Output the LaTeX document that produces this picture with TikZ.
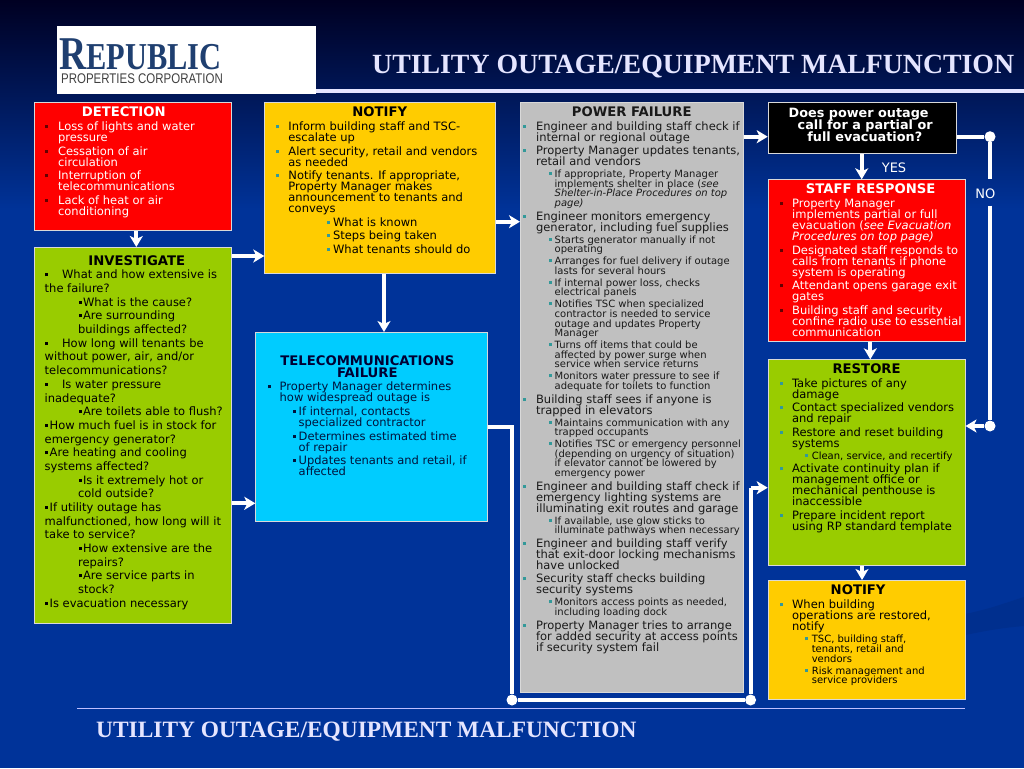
\documentclass[tikz,border=0pt]{standalone}
\usepackage{fontspec}
\setmainfont{DejaVu Sans}
\newfontfamily\titlefont{Liberation Serif}
\newfontfamily\logosans{Liberation Sans}
\usetikzlibrary{arrows.meta}

\definecolor{slideblue}{HTML}{003399}
\definecolor{slidedark}{HTML}{000022}
\definecolor{alertred}{HTML}{FF0000}
\definecolor{signalyellow}{HTML}{FFCC00}
\definecolor{leafgreen}{HTML}{99CC00}
\definecolor{skycyan}{HTML}{00CCFF}
\definecolor{panelgray}{HTML}{C0C0C0}
\definecolor{bulletteal}{HTML}{339999}
\definecolor{bulletred}{HTML}{660000}
\definecolor{logonavy}{HTML}{1F3F70}
\colorlet{bulletcol}{black}

% one bullet line: continuation x, bullet x, first text x, text
\newcommand{\entry}[4]{\par\leftskip=#1pt\relax\noindent
  \hspace*{\dimexpr#2pt-#1pt\relax}\textcolor{bulletcol}{\rule[2.5pt]{3pt}{3pt}}%
  \hspace*{\dimexpr#3pt-#2pt-3pt\relax}#4\par}
\newcommand{\mainsize}{\fontsize{11.5}{11}\selectfont\setlength{\parskip}{2.6pt}}
\newcommand{\subsize}{\fontsize{10}{9.6}\selectfont\setlength{\parskip}{2.4pt}}
\newcommand{\paneltitle}[3]{\vspace*{#1pt}\par\noindent
  \hbox to \linewidth{\hss\hspace{#2pt}\fontsize{13.2}{13}\selectfont\bfseries #3\hss}\par}
\newcommand{\panelbody}[3]{\parbox[t][#2pt][t]{#1pt}{\lineskiplimit=-30pt\rightskip=0pt plus 1fil\relax #3}}

\begin{document}
\begin{tikzpicture}[
    x=1pt, y=-1pt,
    panel/.style={draw=white!85!black, line width=0.8pt, inner sep=0pt, anchor=north west},
    flowline/.style={draw=white, line width=3.8pt},
    flowarrow/.style={flowline, -{Stealth[length=11pt,width=13pt,inset=3pt]}},
    joint/.style={circle, fill=white, inner sep=0pt, minimum size=11pt},
    tag/.style={text=white, font=\fontsize{13}{13}\selectfont, inner sep=0pt},
  ]
  \useasboundingbox (0,0) rectangle (1024,768);

  % slide background
  \fill[slideblue] (0,0) rectangle (1024,768);
  \shade[top color=slidedark, bottom color=slideblue] (0,0) rectangle (1024,210);
  \fill[slideblue!93!black] (965,614) .. controls (990,609) and (1005,603) .. (1024,597)
    -- (1024,626) .. controls (1000,628) and (985,631) .. (965,635) -- cycle;
  \fill[white!90!blue] (316,89) rectangle (1024,93);
  \fill[white!75!blue] (77,707.5) rectangle (965,709);

  % logo
  \fill[white] (57,26) rectangle (316,94);
  \node[anchor=base west, inner sep=0pt, text=logonavy] (logoname) at (59,70)
    {\scalebox{0.8}[1]{\titlefont\bfseries\fontsize{47}{47}\selectfont R\fontsize{38}{38}\selectfont EPUBLIC}};
  \node[anchor=base west, inner sep=0pt, text=black!75] (logosub) at (61,83)
    {\scalebox{0.82}[1]{\logosans\fontsize{14}{14}\selectfont PROPERTIES CORPORATION}};

  % slide titles
  \node[anchor=base west, inner sep=0pt, text=white!90!blue] (toptitle) at (372,73)
    {\titlefont\bfseries\fontsize{27.8}{28}\selectfont UTILITY OUTAGE/EQUIPMENT MALFUNCTION};
  \node[anchor=base west, inner sep=0pt, text=white!90!blue] (bottomtitle) at (96,737)
    {\titlefont\bfseries\fontsize{23.4}{24}\selectfont UTILITY OUTAGE/EQUIPMENT MALFUNCTION};

  % left column
  \node[panel, fill=alertred, text=white] (detection) at (34,102.3) {\panelbody{196.7}{128}{%
    \colorlet{bulletcol}{bulletred}%
    \paneltitle{4.5}{-18}{DETECTION}\mainsize
    \entry{23.7}{11}{23.7}{Loss of lights and water\\pressure}
    \entry{23.7}{11}{23.7}{Cessation of air\\circulation}
    \entry{23.7}{11}{23.7}{Interruption of\\telecommunications}
    \entry{23.7}{11}{23.7}{Lack of heat or air\\conditioning}}};

  \node[panel, fill=leafgreen, text=black] (investigate) at (34,247) {\panelbody{196.7}{376.3}{%
    \paneltitle{8}{8}{INVESTIGATE}\fontsize{11.5}{13.68}\selectfont\setlength{\parskip}{0pt}%
    \entry{10.3}{11}{27.7}{What and how extensive is\\the failure?}
    \entry{43.7}{45}{48.7}{What is the cause?}
    \entry{43.7}{45}{48.7}{Are surrounding\\buildings affected?}
    \entry{10.3}{11}{27.7}{How long will tenants be\\without power, air, and/or\\telecommunications?}
    \entry{10.3}{11}{27.7}{Is water pressure\\inadequate?}
    \entry{43.7}{45}{48.7}{Are toilets able to flush?}
    \entry{10.3}{11}{15.3}{How much fuel is in stock for\\emergency generator?}
    \entry{10.3}{11}{15.3}{Are heating and cooling\\systems affected?}
    \entry{43.7}{45}{48.7}{Is it extremely hot or\\cold outside?}
    \entry{10.3}{11}{15.3}{If utility outage has\\malfunctioned, how long will it\\take to service?}
    \entry{43.7}{45}{48.7}{How extensive are the\\repairs?}
    \entry{43.7}{45}{48.7}{Are service parts in\\stock?}
    \entry{10.3}{11}{15.3}{Is evacuation necessary}}};

  % second column
  \node[panel, fill=signalyellow, text=black] (notifyfirst) at (264.3,102.3) {\panelbody{231}{170.7}{%
    \colorlet{bulletcol}{bulletteal}%
    \paneltitle{4.5}{-1}{NOTIFY}\mainsize
    \entry{23.7}{11.5}{23.7}{Inform building staff and TSC-\\escalate up}
    \entry{23.7}{11.5}{23.7}{Alert security, retail and vendors\\as needed}
    \entry{23.7}{11.5}{23.7}{Notify tenants.  If appropriate,\\Property Manager makes\\announcement to tenants and\\conveys}
    \entry{68.4}{62.5}{68.4}{What is known}
    \entry{68.4}{62.5}{68.4}{Steps being taken}
    \entry{68.4}{62.5}{68.4}{What tenants should do}}};

  \node[panel, fill=skycyan, text=black!60!slideblue] (telecom) at (255.3,332) {\panelbody{231.4}{188.7}{%
    \colorlet{bulletcol}{black!60!slideblue}%
    \vspace*{23pt}\par\noindent\hbox to \linewidth{\hss\hspace{-8pt}\fontsize{13.2}{13}\selectfont\bfseries\color{black!80!blue} TELECOMMUNICATIONS\hss}\par
    \paneltitle{0}{-8}{\color{black!80!blue}FAILURE}\mainsize
    \entry{24}{12}{24}{Property Manager determines\\how widespread outage is}
    \entry{43}{37.7}{43}{If internal, contacts\\specialized contractor}
    \entry{43}{37.7}{43}{Determines estimated time\\of repair}
    \entry{43}{37.7}{43}{Updates tenants and retail, if\\affected}}};

  % power failure column
  \node[panel, fill=panelgray, text=black!90] (power) at (520,102.3) {\panelbody{222.7}{589.4}{%
    \colorlet{bulletcol}{bulletteal}%
    \paneltitle{4}{0}{POWER FAILURE}\mainsize
    \entry{15.7}{3}{15.7}{Engineer and building staff check if\\internal or regional outage}
    \entry{15.7}{3}{15.7}{Property Manager updates tenants,\\retail and vendors}\subsize
    \entry{34.3}{29}{34.3}{If appropriate, Property Manager\\implements shelter in place (\textit{see\\Shelter-in-Place Procedures on top\\page)}}\mainsize
    \entry{15.7}{3}{15.7}{Engineer monitors emergency\\generator, including fuel supplies}\subsize
    \entry{34.3}{29}{34.3}{Starts generator manually if not\\operating}
    \entry{34.3}{29}{34.3}{Arranges for fuel delivery if outage\\lasts for several hours}
    \entry{34.3}{29}{34.3}{If internal power loss, checks\\electrical panels}
    \entry{34.3}{29}{34.3}{Notifies TSC when specialized\\contractor is needed to service\\outage and updates Property\\Manager}
    \entry{34.3}{29}{34.3}{Turns off items that could be\\affected by power surge when\\service when service returns}
    \entry{34.3}{29}{34.3}{Monitors water pressure to see if\\adequate for toilets to function}\mainsize
    \entry{15.7}{3}{15.7}{Building staff sees if anyone is\\trapped in elevators}\subsize
    \entry{34.3}{29}{34.3}{Maintains communication with any\\trapped occupants}
    \entry{34.3}{29}{34.3}{Notifies TSC or emergency personnel\\(depending on urgency of situation)\\if elevator cannot be lowered by\\emergency power}\mainsize
    \entry{15.7}{3}{15.7}{Engineer and building staff check if\\emergency lighting systems are\\illuminating exit routes and garage}\subsize
    \entry{34.3}{29}{34.3}{If available, use glow sticks to\\illuminate pathways when necessary}\mainsize
    \entry{15.7}{3}{15.7}{Engineer and building staff verify\\that exit-door locking mechanisms\\have unlocked}
    \entry{15.7}{3}{15.7}{Security staff checks building\\security systems}\subsize
    \entry{34.3}{29}{34.3}{Monitors access points as needed,\\including loading dock}\mainsize
    \entry{15.7}{3}{15.7}{Property Manager tries to arrange\\for added security at access points\\if security system fail}}};

  % right column
  \node[panel, fill=black, text=white] (question) at (767.7,102.3) {\panelbody{188.3}{51}{%
    \fontsize{12.8}{12.3}\selectfont\bfseries\vspace*{5pt}\par
    \noindent\hspace*{20.6pt}Does power outage\par
    \noindent\hspace*{29.6pt}call for a partial or\par
    \noindent\hspace*{39.3pt}full evacuation?}};

  \node[panel, fill=alertred, text=white] (staff) at (767.7,179.3) {\panelbody{197}{162}{%
    \colorlet{bulletcol}{bulletred}%
    \paneltitle{4.5}{8}{STAFF RESPONSE}\mainsize
    \entry{24}{11.5}{24}{Property Manager\\implements partial or full\\evacuation (\textit{see Evacuation\\Procedures on top page)}}
    \entry{24}{11.5}{24}{Designated staff responds to\\calls from tenants if phone\\system is operating}
    \entry{24}{11.5}{24}{Attendant opens garage exit\\gates}
    \entry{24}{11.5}{24}{Building staff and security\\confine radio use to essential\\communication}}};

  \node[panel, fill=leafgreen, text=black] (restore) at (767.7,359.3) {\panelbody{197}{205.4}{%
    \colorlet{bulletcol}{bulletteal}%
    \paneltitle{4}{0}{RESTORE}\mainsize
    \entry{24}{11.5}{24}{Take pictures of any\\damage}
    \entry{24}{11.5}{24}{Contact specialized vendors\\and repair}
    \entry{24}{11.5}{24}{Restore and reset building\\systems}\subsize
    \entry{43.7}{37}{43.7}{Clean, service, and recertify}\mainsize
    \entry{24}{11.5}{24}{Activate continuity plan if\\management office or\\mechanical penthouse is\\inaccessible}
    \entry{24}{11.5}{24}{Prepare incident report\\using RP standard template}}};

  \node[panel, fill=signalyellow, text=black] (notifylast) at (767.7,580) {\panelbody{197}{119.3}{%
    \colorlet{bulletcol}{bulletteal}%
    \paneltitle{4}{-17}{NOTIFY}\mainsize\vspace{1pt}
    \entry{24}{11.5}{24}{When building\\operations are restored,\\notify}\subsize
    \entry{43.7}{37}{43.7}{TSC, building staff,\\tenants, retail and\\vendors}
    \entry{43.7}{37}{43.7}{Risk management and\\service providers}}};

  % free points of the routed lines
  \node[joint] (nofork) at (990,136.7) {};
  \node[joint] (norejoin) at (990,426) {};
  \node[joint] (busleft) at (512,700) {};
  \node[joint] (busright) at (750.6,700) {};
  \node[tag] (yes) at (894,167.7) {YES};
  \node[tag] (no) at (985.3,193.3) {NO};

  % connectors
  \draw[flowarrow] (detection.south -| 136.3,0) -- (investigate.north -| 136.3,0);
  \draw[flowarrow] (investigate.east |- 0,256) -- (notifyfirst.west |- 0,256);
  \draw[flowarrow] (investigate.east |- 0,503.3) -- (telecom.west |- 0,503.3);
  \draw[flowarrow] (notifyfirst.south -| 384,0) -- (telecom.north -| 384,0);
  \draw[flowarrow] (notifyfirst.east |- 0,221.7) -- (power.west |- 0,221.7);
  \draw[flowarrow] (power.east |- nofork) -- (question.west |- nofork);
  \draw[flowarrow] (question.south -| 861.7,0) -- (staff.north -| 861.7,0);
  \draw[flowarrow] (staff.south -| 870.3,0) -- (restore.north -| 870.3,0);
  \draw[flowarrow] (restore.south -| 862,0) -- (notifylast.north -| 862,0);
  \draw[flowline] (question.east |- nofork) -- (nofork) -- (nofork |- 0,178.5);
  \draw[flowline] (norejoin |- 0,205.5) -- (norejoin);
  \draw[flowarrow] (norejoin) -- (restore.east |- norejoin);
  \draw[flowline] (telecom.east |- 0,426.7) -- (busleft |- 0,426.7) -- (busleft) -- (busright) -- (busright |- 0,487.7);
  \draw[flowarrow] (busright |- 0,487.7) -- (restore.west |- 0,487.7);
\end{tikzpicture}
\end{document}
